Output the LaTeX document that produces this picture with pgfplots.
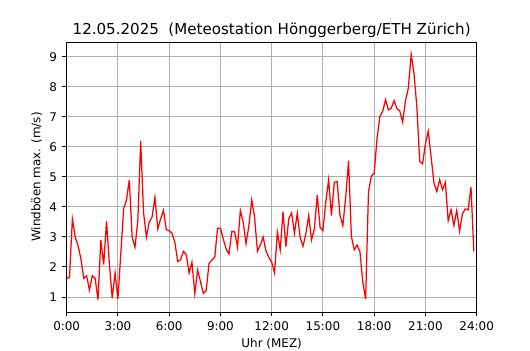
\documentclass[border=0pt]{standalone}
\usepackage{fontspec}
\setmainfont{DejaVu Sans}
\usepackage{pgfplots}
\usepackage{pgfplotstable}
\pgfplotsset{compat=1.18}
\definecolor{gridc}{HTML}{B0B0B0}
\pgfplotstableread{
m v
0 1.62
10 1.65
20 3.60
30 2.99
40 2.71
50 2.27
60 1.62
70 1.71
80 1.23
90 1.71
100 1.62
110 0.91
120 2.90
130 2.08
140 3.52
150 2.10
160 0.96
170 1.80
180 0.93
190 2.43
200 3.93
210 4.23
220 4.90
230 2.99
240 2.66
250 3.54
260 6.19
270 3.82
280 2.99
290 3.49
300 3.66
310 4.32
320 3.27
330 3.60
340 3.88
350 3.24
360 3.21
370 3.12
380 2.82
390 2.18
400 2.24
410 2.52
420 2.41
430 1.80
440 2.16
450 1.12
460 1.90
470 1.51
480 1.12
490 1.21
500 2.12
510 2.23
520 2.32
530 3.29
540 3.29
550 2.93
560 2.60
570 2.43
580 3.18
590 3.18
600 2.66
610 3.88
620 3.49
630 2.77
640 3.38
650 4.23
660 3.66
670 2.52
680 2.73
690 2.99
700 2.54
710 2.32
720 2.16
730 1.80
740 3.16
750 2.57
760 3.84
770 2.68
780 3.60
790 3.80
800 3.12
810 3.79
820 2.99
830 2.69
840 3.10
850 3.71
860 2.90
870 3.27
880 4.40
890 3.32
900 3.21
910 4.16
920 4.90
930 3.71
940 4.82
950 4.84
960 3.71
970 3.38
980 4.32
990 5.54
1000 3.01
1010 2.57
1020 2.73
1030 2.51
1040 1.50
1050 0.93
1060 4.50
1070 5.02
1080 5.12
1090 6.27
1100 7.01
1110 7.19
1120 7.57
1130 7.23
1140 7.29
1150 7.54
1160 7.27
1170 7.19
1180 6.82
1190 7.54
1200 7.96
1210 9.08
1220 8.43
1230 7.32
1240 5.51
1250 5.43
1260 6.10
1270 6.52
1280 5.66
1290 4.79
1300 4.51
1310 4.91
1320 4.57
1330 4.82
1340 3.54
1350 3.91
1360 3.38
1370 3.88
1380 3.19
1390 3.77
1400 3.93
1410 3.90
1420 4.66
1430 2.52
}\wind
\begin{document}
\begin{tikzpicture}
\useasboundingbox (-48pt,-27.36pt) rectangle (333.6pt,224.64pt);
\begin{axis}[
  at={(0,0)}, anchor=south west,
  scale only axis, width=295.2pt, height=194.4pt,
  xmin=0, xmax=1440, ymin=0.5, ymax=9.49,
  enlargelimits=false,
  xtick={0,180,360,540,720,900,1080,1260,1440},
  xticklabels={0:00,3:00,6:00,9:00,12:00,15:00,18:00,21:00,24:00},
  ytick={1,2,3,4,5,6,7,8,9},
  tick pos=left, tick align=outside,
  major tick length=3pt,
  every tick/.style={black, line width=0.7pt},
  axis line style={black, line width=0.7pt},
  grid=major,
  major grid style={gridc, line width=0.7pt},
  /pgf/number format/assume math mode=true,
  tick label style={font=\fontsize{8.6}{10}\selectfont},
  xticklabel style={yshift=-0.5pt},
  yticklabel style={xshift=-0.5pt},
  label style={font=\fontsize{8.6}{10}\selectfont},
  xlabel={Uhr (MEZ)},
  ylabel={Windböen max. (m/s)},
  xlabel style={at={(axis description cs:0.5,-0.1183)}, anchor=center},
  ylabel style={at={(axis description cs:-0.0735,0.5)}, anchor=center},
  title={12.05.2025\ \ (Meteostation Hönggerberg/ETH Zürich)},
  every axis title/.style={font=\fontsize{10.85}{12}\selectfont, at={(axis description cs:0.5,1)}, anchor=base, yshift=5.5pt},
]
\addplot[red, line width=0.9pt, mark=none] table[x=m, y=v] {\wind};
\end{axis}
\end{tikzpicture}
\end{document}
